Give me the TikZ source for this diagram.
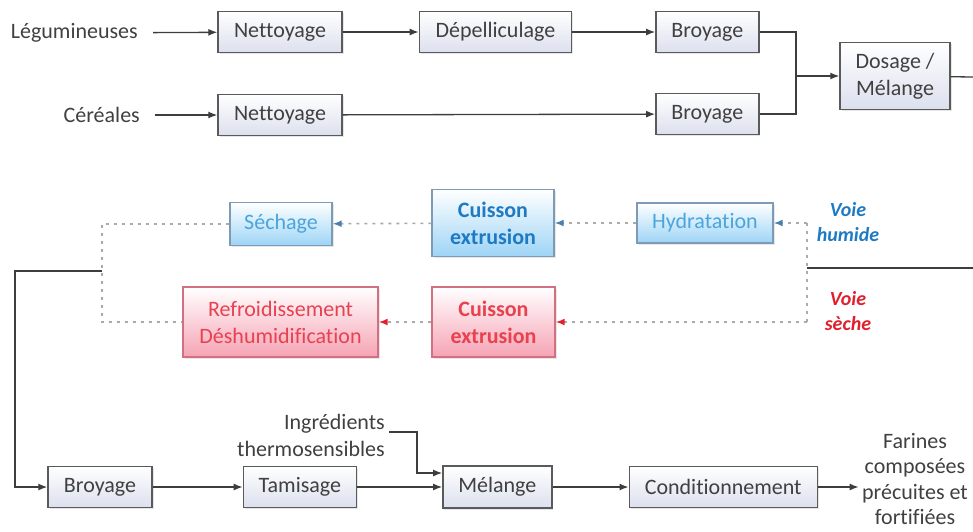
\documentclass[tikz,border=0pt]{standalone}
\usepackage{fontspec}
\setmainfont{Carlito}[Ligatures=CommonOff]
\usetikzlibrary{arrows.meta,positioning,shadows}

\definecolor{linegray}{HTML}{3D3D3D}
\definecolor{txtgray}{HTML}{404040}
\definecolor{boxgray}{HTML}{5A5A5A}
\definecolor{boxfill}{HTML}{DCE0EE}
\definecolor{bluegray}{HTML}{7F9AB5}
\definecolor{bluefill}{HTML}{9DD4F6}
\definecolor{bluetxt}{HTML}{4AA5DD}
\definecolor{bluebold}{HTML}{1F7AC4}
\definecolor{bluearrow}{HTML}{4A7FAE}
\definecolor{redgray}{HTML}{D07080}
\definecolor{redfill}{HTML}{F6A3B4}
\definecolor{redtxt}{HTML}{E8414F}
\definecolor{redarrow}{HTML}{E0202C}
\definecolor{dotgray}{HTML}{AAAAAA}

\begin{document}
\begin{tikzpicture}[
    x=1pt, y=-1pt,
    font=\fontsize{22}{27}\selectfont,
    etape/.style={draw=boxgray, line width=1.4pt, top color=white, bottom color=boxfill,
        text=txtgray, minimum height=41pt, inner sep=2pt, align=center,
        drop shadow={opacity=0.2, shadow xshift=1.5pt, shadow yshift=-1.5pt}},
    humide/.style={etape, draw=bluegray, bottom color=bluefill, text=bluetxt},
    seche/.style={etape, draw=redgray, bottom color=redfill, text=redtxt},
    gras/.style={font=\fontsize{22}{27}\selectfont\bfseries},
    entree/.style={text=txtgray, inner xsep=15pt, anchor=east},
    texte/.style={text=txtgray, align=center},
    voie/.style={font=\fontsize{20}{25}\selectfont\bfseries\itshape, align=center},
    arrow/.style={-{Latex[length=9pt,width=7pt]}, line width=1.3pt, draw=linegray},
    ligne/.style={line width=1.3pt, draw=linegray},
    pointille/.style={line width=1.6pt, draw=dotgray, dash pattern=on 3pt off 5pt},
    fleche bleue/.style={-{Latex[length=9pt,width=7pt,color=bluearrow]}},
    fleche rouge/.style={-{Latex[length=9pt,width=7pt,color=redarrow]}}
]
\useasboundingbox (0,0) rectangle (973,531);

% preparation des matieres premieres
\node[entree] (leg) at (153,33) {Légumineuses};
\node[entree] (cer) at (155,115) {Céréales};
\node[etape, minimum width=124pt] (net1) at (280,32) {Nettoyage};
\node[etape, minimum width=152pt, right=76pt of net1] (depel) {Dépelliculage};
\node[etape, minimum width=103pt, right=83pt of depel] (broy1) {Broyage};
\node[etape, minimum width=124pt] (net2) at (280,115) {Nettoyage};
\node[etape, minimum width=103pt] (broy2) at (broy1 |- 0,114) {Broyage};
\node[etape, minimum width=110pt, minimum height=67pt] (dosage) at (895,76) {Dosage /\\Mélange};

\coordinate (jonc1) at (796,76);
\coordinate (bord1) at (973,77);
\coordinate (bord2) at (973,268);
\coordinate (jonc2) at (807,268);

\draw[arrow] (leg) -- (net1);
\draw[arrow] (net1) -- (depel);
\draw[arrow] (depel) -- (broy1);
\draw[arrow] (cer) -- (net2);
\draw[arrow] (net2) -- (broy2);
\draw[ligne] (broy1) -| (jonc1) |- (broy2);
\draw[arrow] (jonc1) -- (dosage);
\draw[ligne] (dosage) -- (bord1);
\draw[ligne] (bord2) -- (jonc2);

% voie humide / voie seche
\node[voie, text=bluebold] (vh) at (848,222) {Voie\\humide};
\node[voie, text=redarrow] (vs) at (848,311) {Voie\\sèche};
\node[humide, minimum width=136pt, minimum height=40pt] (hydra) at (705,223) {Hydratation};
\node[humide, gras, text=bluebold, minimum width=122pt, minimum height=67pt] (cuisB) at (493,223) {Cuisson\\extrusion};
\node[humide, minimum width=102pt, minimum height=43pt] (sech) at (281,224) {Séchage};
\node[seche, gras, minimum width=123pt, minimum height=70pt] (cuisR) at (493.5,322) {Cuisson\\extrusion};
\node[seche, minimum width=195pt, minimum height=70pt] (refr) at (280.5,322) {Refroidissement\\Déshumidification};

\coordinate (jhaut) at (807,223);
\coordinate (jbas) at (807,322);
\coordinate (jgauche) at (102,224);
\coordinate (jgbas) at (102,322);
\coordinate (jsortie) at (102,271);
\coordinate (coin) at (15,271);

\draw[pointille] (jhaut) -- (jbas);
\draw[pointille, fleche bleue] (jhaut) -- (hydra);
\draw[pointille, fleche bleue] (hydra) -- (cuisB);
\draw[pointille, fleche bleue] (cuisB) -- (sech);
\draw[pointille] (sech) -- (jgauche) -- (jgbas) -- (refr);
\draw[pointille, fleche rouge] (jbas) -- (cuisR);
\draw[pointille, fleche rouge] (cuisR) -- (refr);

% traitement final
\node[etape, minimum width=104pt] (broy3) at (100,487) {Broyage};
\node[etape, minimum width=113pt, right=90pt of broy3] (tamis) {Tamisage};
\node[etape, minimum width=109pt, minimum height=42pt, right=85pt of tamis] (melange) {Mélange};
\node[etape, minimum width=188pt, right=76pt of melange] (cond) {Conditionnement};
\node[texte, align=right, anchor=east, inner sep=0pt] (ingr) at (385,435) {Ingrédients\\thermosensibles};
\node[texte, font=\fontsize{22}{25.5}\selectfont] (farines) at (915,479) {Farines\\composées\\précuites et\\fortifiées};

\coordinate (ingrout) at (389,432);
\coordinate (ingrcoin) at (417,432);

\draw[arrow] (jsortie) -- (coin) |- (broy3);
\draw[arrow] (broy3) -- (tamis);
\draw[arrow] (tamis) -- (melange);
\draw[arrow] (ingrout) -- (ingrcoin) |- ([yshift=14pt]melange.west);
\draw[arrow] (melange) -- (cond);
\draw[arrow] (cond) -- (farines.west |- cond);

\end{tikzpicture}
\end{document}
